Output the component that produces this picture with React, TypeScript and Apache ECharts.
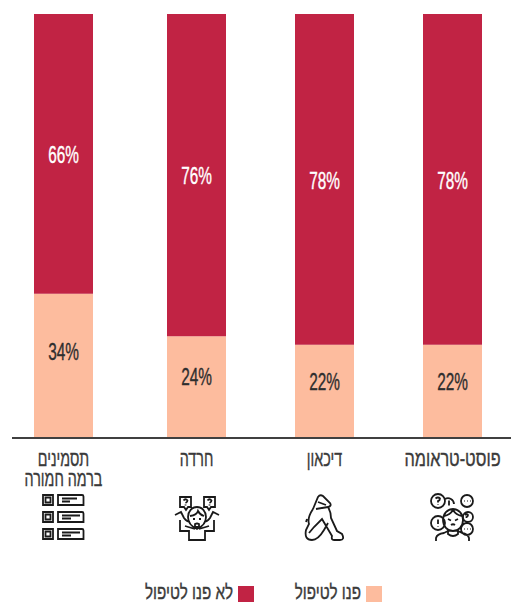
import React, { useEffect, useRef } from "react";
import * as echarts from "echarts";

const firstCategory = ["תסמינים\nברמה חמורה"];
const otherCategories = ["חרדה", "דיכאון", "פוסט-טראומה"];
const soughtFirst = [34];
const notSoughtFirst = [66];
const soughtOthers = [24, 22, 22];
const notSoughtOthers = [76, 78, 78];
const SOUGHT = "פנו לטיפול";
const NOT_SOUGHT = "לא פנו לטיפול";
const PEACH = "#FDBC9E";
const RED = "#C12344";
const TEXT = "#3a3a3a";
const FONT = "'Liberation Sans',sans-serif";

const iconList =
  "M1 1h10v10h-10zM3.500 3.500h5v5h-5zM16 1h24q1.500 0 1.500 1.500v8.500h-25.500zM20 4.500h15M20 7.500h8M1 18h10v10h-10zM3.500 20.500h5v5h-5zM16 18h24q1.500 0 1.500 1.500v8.500h-25.500zM20 21.500h18M20 24.500h9M1 35h10v10h-10zM3.500 37.500h5v5h-5zM16 35h24q1.500 0 1.500 1.500v8.500h-25.500zM20 38.500h18M20 41.500h9";
const iconAnxiety =
  "M5 1h11v10h-3l-2 3l-2-3h-4zM29 1h11v10h-4l-2 3l-2-3h-3zM8.500 4.500q2-2.500 4 0q0 1.500-2 2.500M10.500 8.500v1M32.500 4.500q2-2.500 4 0q0 1.500-2 2.500M34.500 8.500v1M0 19l6-3l3 6q3 4 6 4M44 19l-6-3l-3 6q-3 4-6 4M13 21a9 10 0 1 1 18 0q0 8-9 12q-9-4-9-12zM15 20q7-1 8-5q2 4 6 5M18 23h2M24 23h2M20 28q2-1 4 0v3h-4zM5 24v11h9v9h16v-9h9v-11M10 30l10 3M34 30l-10 3";
const iconSitting =
  "M9 15L14 3Q16 0 19 2L26 9Q28 12 24 13L12 15M14 8L22 11M9 15Q3 24 5 30L2 36Q0 46 8 46Q14 46 20 36L24 29M24 13Q27 18 27 24L33 37L38 40Q41 46 36 46L30 46Q27 46 28 42L18 25L10 33L5 39M3 25L2 28";
const iconCrowd =
  "M0 7a7 7 0 1 0 14 0a7 7 0 1 0-14 0zM14 5a6 6 0 0 1 9 5M30 7a6 6 0 1 0 12 0a6 6 0 1 0-12 0zM0 29a7 7 0 1 0 14 0a7 7 0 1 0-14 0zM32 23a5 5 0 1 0 10 0a5 5 0 1 0-10 0zM30 35a6 6 0 1 0 12 0a6 6 0 1 0-12 0zM12 26a10 11 0 1 1 20 0a10 11 0 1 1-20 0zM13 22q6-1 9-6q3 5 9 6M17 25l3 1.500M27 25l-3 1.500M20 31q2-1.500 4 0M5 47v-3q1-4 8-5l4-2M38 47v-3q-1-4-7-5l-4-2M17 36v4q5 4 10 0v-4M4.500 4.500q2.500-2 4.500 0q0 2-2 2.500v1.500M7 10.500v.5M18 6.500v5M7 25.500v4.500M7 32v.500M34 21q2-1.500 3 0q0 1.500-1.500 2v1M33 35h.5M36 35h.5M39 35h.5M33 7h.5M36 7h.5M39 7h.5";

echarts.graphic.registerShape("iconList", echarts.graphic.extendPath(iconList, {}) as any);
echarts.graphic.registerShape("iconAnxiety", echarts.graphic.extendPath(iconAnxiety, {}) as any);
echarts.graphic.registerShape("iconSitting", echarts.graphic.extendPath(iconSitting, {}) as any);
echarts.graphic.registerShape("iconCrowd", echarts.graphic.extendPath(iconCrowd, {}) as any);

function bar(name: string, data: number[], axis: number, color: string) {
  return {
    name,
    type: "bar" as const,
    stack: "s" + axis,
    xAxisIndex: axis,
    yAxisIndex: axis,
    data,
    barWidth: 59,
    itemStyle: { color },
  };
}

function xAxis(data: string[], gridIndex: number) {
  return {
    type: "category" as const,
    gridIndex,
    data,
    axisLine: { show: false },
    axisTick: { show: false },
    axisLabel: { show: false },
  };
}

function yAxis(gridIndex: number) {
  return { type: "value" as const, gridIndex, min: 0, max: 100, show: false };
}

function icon(type: string, x: number, y: number) {
  return {
    type,
    x,
    y,
    z: 10,
    style: { fill: "none", stroke: "#1a1a1a", lineWidth: 1.8 },
  };
}

// Condensed text: the fonts available have no condensed Hebrew face, so it is narrowed with scaleX.
function narrowText(
  text: string,
  x: number,
  y: number,
  fontSize: number,
  fill: string,
  align: string,
  scaleX: number,
) {
  return {
    type: "text",
    x,
    y,
    z: 10,
    scaleX,
    style: {
      text,
      fill,
      stroke: fill,
      lineWidth: 0.4,
      fontFamily: FONT,
      fontSize,
      align,
      verticalAlign: "middle",
    },
  };
}

export default function App() {
  const ref = useRef<HTMLDivElement>(null);
  useEffect(() => {
    document.body.style.margin = "0";
    const chart = echarts.init(ref.current!, undefined, { renderer: "svg" });
    chart.setOption({
      animation: false,
      backgroundColor: "#fff",
      grid: [
        { left: 12, top: 14, width: 103, height: 424, outerBoundsMode: "none" },
        { left: 132.5, top: 14, width: 384, height: 424, outerBoundsMode: "none" },
      ],
      xAxis: [xAxis(firstCategory, 0), xAxis(otherCategories, 1)],
      yAxis: [yAxis(0), yAxis(1)],
      series: [
        bar(SOUGHT, soughtFirst, 0, PEACH),
        bar(NOT_SOUGHT, notSoughtFirst, 0, RED),
        bar(SOUGHT, soughtOthers, 1, PEACH),
        bar(NOT_SOUGHT, notSoughtOthers, 1, RED),
      ],
    });

    const labels: any[] = [];
    const addColumn = (name: string, grid: number, low: number, high: number) => {
      const at = (v: number) =>
        chart.convertToPixel({ xAxisIndex: grid, yAxisIndex: grid }, [name, v]) as number[];
      const [cx, lowY] = at(low * 0.6);
      const [, highY] = at(low + high / 2);
      labels.push(narrowText(low + "%", cx, lowY, 24, "#2e2e2e", "center", 0.64));
      labels.push(narrowText(high + "%", cx, highY + 1, 24, "#ffffff", "center", 0.64));
      name.split("\n").forEach((line, i) => {
        labels.push(narrowText(line, cx, 458 + i * 20, 22, TEXT, "center", line.length > 10 && !line.includes(" ") ? 0.74 : 0.65));
      });
    };
    firstCategory.forEach((c, i) => addColumn(c, 0, soughtFirst[i], notSoughtFirst[i]));
    otherCategories.forEach((c, i) => addColumn(c, 1, soughtOthers[i], notSoughtOthers[i]));

    chart.setOption({
      graphic: [
        {
          type: "line",
          z: 10,
          shape: { x1: 12, y1: 438, x2: 511, y2: 438 },
          style: { stroke: "#404040", lineWidth: 2 },
        },
        ...labels,
        icon("iconList", 42, 494),
        icon("iconAnxiety", 175, 496),
        icon("iconSitting", 304, 494),
        icon("iconCrowd", 431, 494),
        { type: "rect", z: 10, shape: { x: 238, y: 586, width: 16, height: 16 }, style: { fill: RED } },
        { type: "rect", z: 10, shape: { x: 366, y: 586, width: 16, height: 16 }, style: { fill: PEACH } },
        narrowText(NOT_SOUGHT, 233, 592.5, 20, TEXT, "right", 0.76),
        narrowText(SOUGHT, 361, 592.5, 20, TEXT, "right", 0.76),
      ],
    });
    return () => chart.dispose();
  }, []);
  return <div ref={ref} style={{ width: 511, height: 603 }} />;
}
